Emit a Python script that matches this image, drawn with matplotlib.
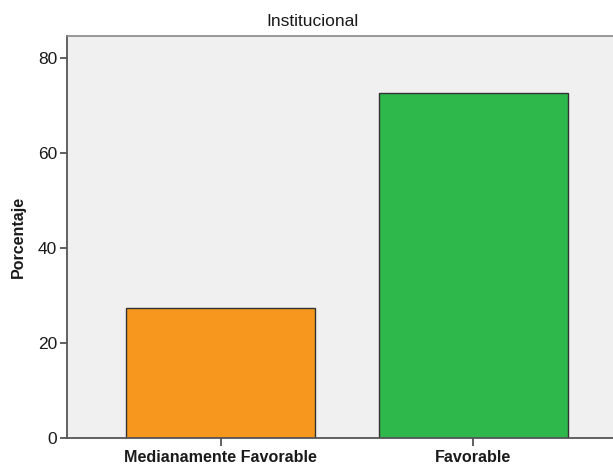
import matplotlib
matplotlib.use("Agg")
import matplotlib.pyplot as plt

categorias = ["Medianamente Favorable", "Favorable"]
porcentajes = [27.3, 72.7]
colores = ["#F7971E", "#2EB84B"]
yticks = [0, 20, 40, 60, 80]

plt.rcParams['font.family'] = ['Liberation Sans', 'DejaVu Sans']

fig = plt.figure(figsize=(6.13, 4.66), dpi=100)
ax = fig.add_axes([67/613, 1 - 438/466, 1 - 67/613 + 0.02, (438 - 36)/466])
ax.set_facecolor("#F0F0F0")

x = list(range(len(categorias)))
ax.bar(x, porcentajes, width=0.75, color=colores, edgecolor="#333333", linewidth=1.0, zorder=2)

ax.set_xlim(-0.607, 1.6)
ax.set_ylim(0, 84.6)
ax.set_yticks(yticks)
ax.set_yticklabels([str(v) for v in yticks], fontsize=12.5, color="#1a1a1a")
ax.set_xticks(x)
ax.set_xticklabels(categorias, fontsize=11.6, fontweight="bold", color="#1a1a1a")
ax.tick_params(axis="y", length=5, width=1.2, color="#444444", pad=2)
ax.tick_params(axis="x", length=6, width=1.2, color="#444444", pad=3)

for s in ["left", "bottom"]:
    ax.spines[s].set_color("#555555")
    ax.spines[s].set_linewidth(1.3)
ax.spines["top"].set_color("#888888")
ax.spines["top"].set_linewidth(1.2)
ax.spines["right"].set_visible(False)

ax.set_ylabel("Porcentaje", fontsize=11.5, fontweight="bold", color="#1a1a1a", labelpad=9)
fig.text(313/613, 1 - 22/466, "Institucional", ha="center", va="center", fontsize=12.5, color="#1a1a1a")

fig.savefig("out.png", dpi=100)
